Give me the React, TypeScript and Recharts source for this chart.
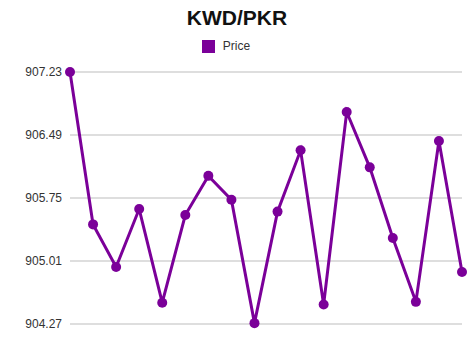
import React from "react";
import { LineChart, Line, XAxis, YAxis, CartesianGrid, Legend } from "recharts";

// Daily KWD/PKR price readings
const days = [
  "D1", "D2", "D3", "D4", "D5", "D6", "D7", "D8", "D9",
  "D10", "D11", "D12", "D13", "D14", "D15", "D16", "D17", "D18",
];
const prices = [
  907.23, 905.44, 904.94, 905.62, 904.52, 905.55, 906.01, 905.73, 904.28,
  905.59, 906.31, 904.5, 906.76, 906.11, 905.28, 904.53, 906.42, 904.88,
];
const yTicks = [904.27, 905.01, 905.75, 906.49, 907.23];

const PURPLE = "#7b0099";
const FONT = "'Liberation Sans', Arial, Helvetica, sans-serif";

export default function App() {
  const data = days.map((d, i) => ({ day: d, price: prices[i] }));

  return (
    <div style={{ position: "absolute", left: 0, top: 0, width: 474, height: 355, background: "#fff", fontFamily: FONT }}>
      <div
        style={{
          position: "absolute",
          top: 6,
          left: 0,
          width: 474,
          textAlign: "center",
          fontSize: 21,
          fontWeight: "bold",
          color: "#111",
        }}
      >
        KWD/PKR
      </div>
      <LineChart width={474} height={355} data={data} margin={{ top: 72, right: 12, bottom: 31, left: 0 }}>
        <CartesianGrid horizontal vertical={false} stroke="#bdbdbd" strokeWidth={1} />
        <XAxis dataKey="day" hide padding={{ left: 0, right: 0 }} />
        <YAxis
          width={70}
          domain={[904.27, 907.23]}
          ticks={yTicks}
          interval={0}
          axisLine={false}
          tickLine={false}
          tick={{ fontSize: 12, fill: "#333", fontFamily: FONT }}
          tickFormatter={(v: number) => v.toFixed(2)}
        />
        <Legend
          verticalAlign="middle"
          align="center"
          layout="horizontal"
          iconType="square"
          iconSize={13}
          wrapperStyle={{ top: 39, fontSize: 12, fontFamily: FONT }}
          formatter={(value) => <span style={{ color: "#333", paddingLeft: 4 }}>{value}</span>}
        />
        <Line
          type="linear"
          dataKey="price"
          name="Price"
          stroke={PURPLE}
          strokeWidth={3}
          dot={{ r: 5, fill: PURPLE, stroke: PURPLE, strokeWidth: 0 }}
          isAnimationActive={false}
        />
      </LineChart>
    </div>
  );
}
